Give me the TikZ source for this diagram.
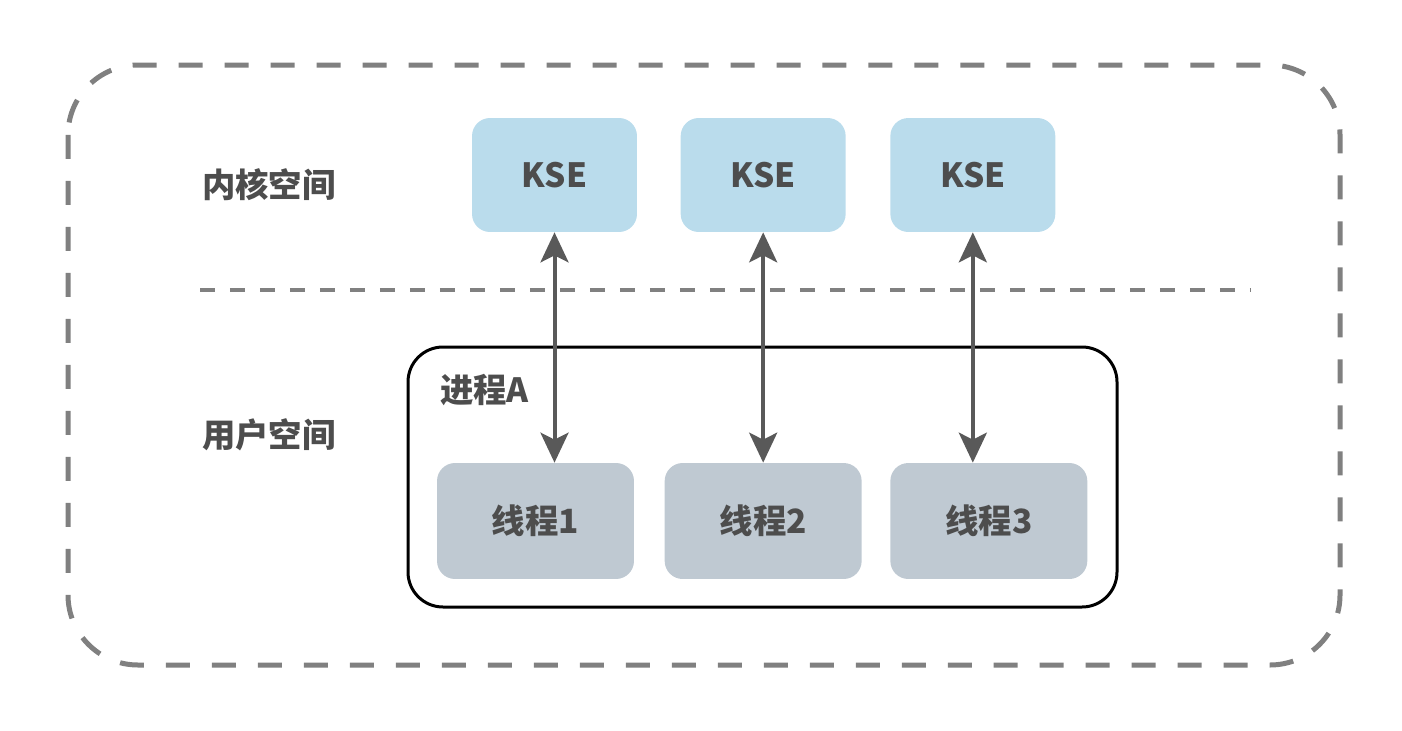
\documentclass[tikz,border=0pt]{standalone}
\usepackage{fontspec}
\setmainfont{Noto Sans CJK SC}
\usetikzlibrary{arrows.meta,positioning}

\definecolor{kseblue}{HTML}{BADCEC}
\definecolor{threadgray}{HTML}{BFC9D2}
\definecolor{textgray}{HTML}{4D4D4D}
\definecolor{arrowgray}{HTML}{595959}
\definecolor{dashgray}{HTML}{808080}

\def \labelFont {\fontsize{19pt}{22pt}\selectfont\bfseries}

\tikzset{
  ksebox/.style={fill=kseblue, rounded corners=0.36cm, minimum width=3.3cm,
    minimum height=2.28cm, text=textgray, font=\labelFont},
  threadbox/.style={fill=threadgray, rounded corners=0.36cm, minimum width=3.94cm,
    minimum height=2.32cm, text=textgray, font=\labelFont},
  spacelabel/.style={anchor=west, text=textgray, font=\labelFont},
  syscall/.style={draw=arrowgray, line width=0.08cm,
    {Stealth[length=0.6cm,width=0.56cm,inset=0.14cm]}-{Stealth[length=0.6cm,width=0.56cm,inset=0.14cm]}}
}

\begin{document}
\begin{tikzpicture}[x=0.02cm, y=-0.02cm]
   \useasboundingbox (0,0) rectangle (1402,730);
   % outer frame and kernel/user border
   \draw[dashgray, line width=0.1cm, dash pattern=on 0.48cm off 0.44cm, rounded corners=1.4cm]
      (68,65) rectangle (1340,665);
   \draw[dashgray, line width=0.08cm, dash pattern=on 0.3cm off 0.3cm] (200,290) -- (1250,290);

   \node[spacelabel] (kernel) at (196,185) {内核空间};
   \node[spacelabel] (user) at (196,435) {用户空间};

   % process
   \draw[black, line width=0.06cm, rounded corners=0.7cm] (408,347) rectangle (1117,607);
   \node[spacelabel] (proc) at (434,390) {进程A};

   \node[ksebox] (kse1) at (554.5,175) {KSE};
   \node[ksebox, right=0.86cm of kse1] (kse2) {KSE};
   \node[ksebox, right=0.88cm of kse2] (kse3) {KSE};

   \node[threadbox] (th1) at (535.5,521) {线程1};
   \node[threadbox, right=0.6cm of th1] (th2) {线程2};
   \node[threadbox, right=0.56cm of th2] (th3) {线程3};

   \draw[syscall] (kse1.south) -- (kse1.south |- th1.north);
   \draw[syscall] (kse2.south) -- (kse2.south |- th2.north);
   \draw[syscall] (kse3.south) -- (kse3.south |- th3.north);
\end{tikzpicture}
\end{document}
